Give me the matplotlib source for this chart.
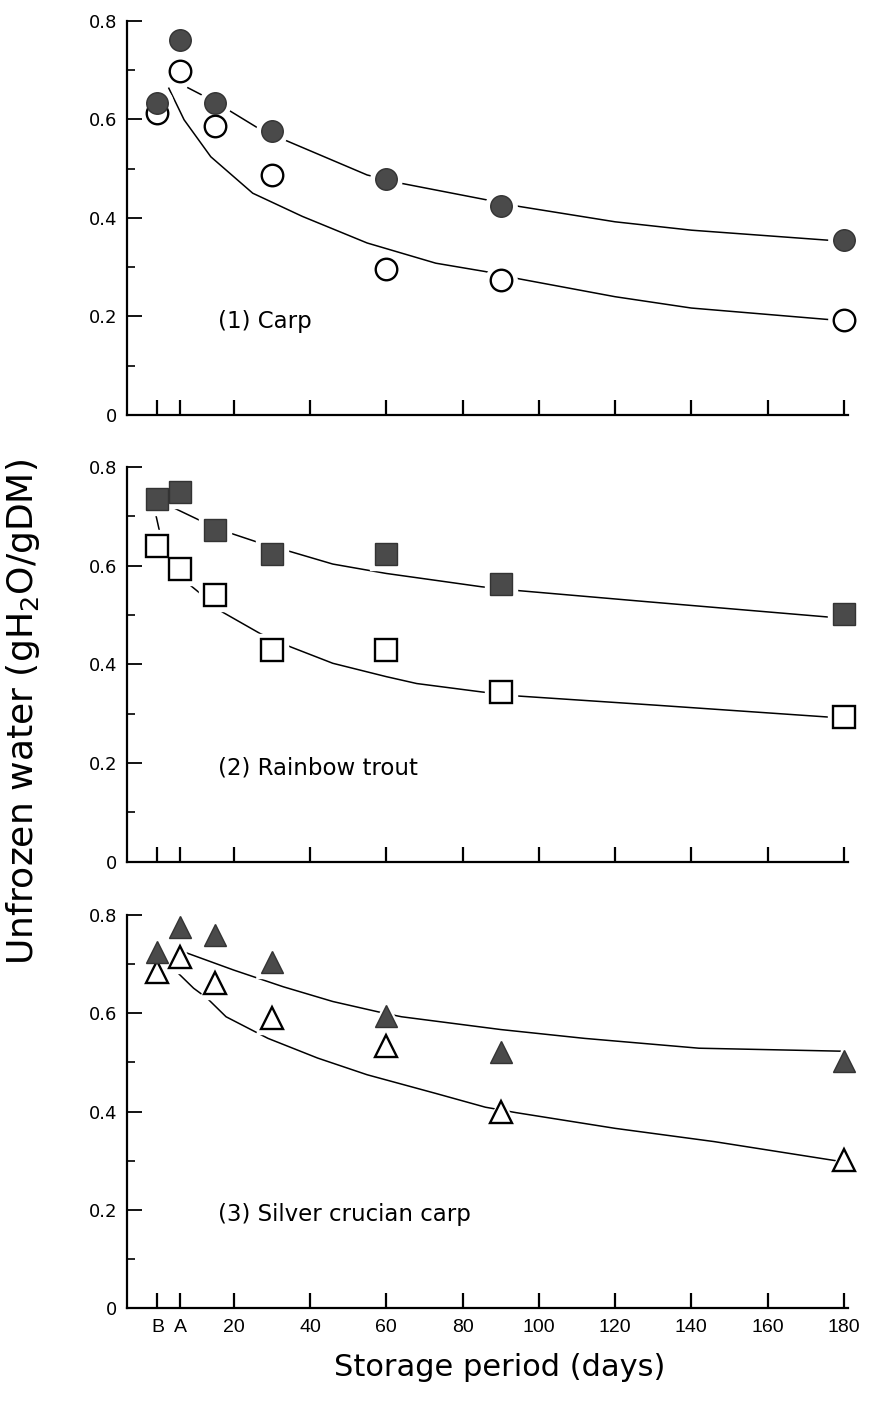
import matplotlib
matplotlib.use('Agg')
import matplotlib.pyplot as plt

# sampling days (B = before freezing, A = after freezing)
days = [0, 6, 15, 30, 60, 90, 180]
x_ticks = [0, 6, 20, 40, 60, 80, 100, 120, 140, 160, 180]
x_ticklabels = ['B', 'A', '20', '40', '60', '80', '100', '120', '140', '160', '180']
y_ticks = [0, 0.2, 0.4, 0.6, 0.8]
y_ticklabels = ['0', '0.2', '0.4', '0.6', '0.8']
y_minor = [0.1, 0.3, 0.5, 0.7]

panel_titles = ['(1) Carp', '(2) Rainbow trout', '(3) Silver crucian carp']

# (1) carp
carp_filled = [0.633, 0.760, 0.633, 0.577, 0.479, 0.424, 0.355]
carp_open = [0.612, 0.697, 0.587, 0.486, 0.296, 0.274, 0.193]
carp_curve_filled_x = [8, 15, 26, 34, 55, 64, 86, 95, 120, 140, 177]
carp_curve_filled_y = [0.664, 0.636, 0.584, 0.556, 0.487, 0.470, 0.437, 0.423, 0.392, 0.375, 0.354]
carp_curve_open_x = [3, 7, 14, 25, 38, 55, 73, 86, 95, 120, 140, 177]
carp_curve_open_y = [0.663, 0.599, 0.524, 0.450, 0.403, 0.349, 0.308, 0.291, 0.276, 0.240, 0.217, 0.193]

# (2) rainbow trout
trout_filled = [0.734, 0.749, 0.673, 0.623, 0.623, 0.562, 0.502]
trout_open = [0.639, 0.594, 0.540, 0.429, 0.429, 0.344, 0.294]
trout_curve_filled_x = [4.5, 11, 19, 26, 35, 46, 60, 73, 85, 95, 128, 177]
trout_curve_filled_y = [0.716, 0.692, 0.666, 0.648, 0.628, 0.603, 0.584, 0.570, 0.557, 0.549, 0.527, 0.495]
trout_curve_open_x = [-0.5, 0.6, 8, 11, 17, 27, 35, 46, 60, 68, 85, 94, 131, 178]
trout_curve_open_y = [0.706, 0.668, 0.564, 0.545, 0.506, 0.462, 0.435, 0.402, 0.375, 0.361, 0.344, 0.336, 0.317, 0.292]

# (3) silver crucian carp
crucian_filled = [0.725, 0.775, 0.759, 0.705, 0.595, 0.522, 0.502]
crucian_open = [0.685, 0.715, 0.662, 0.591, 0.534, 0.400, 0.302]
crucian_curve_filled_x = [7.6, 20, 33, 46, 59, 64, 77, 90, 112, 142, 179]
crucian_curve_filled_y = [0.723, 0.688, 0.654, 0.624, 0.601, 0.593, 0.580, 0.567, 0.549, 0.529, 0.523]
crucian_curve_open_x = [5, 9.5, 13, 18, 29, 42, 55, 73, 86, 94, 120, 146, 178]
crucian_curve_open_y = [0.685, 0.651, 0.631, 0.593, 0.549, 0.509, 0.475, 0.437, 0.409, 0.398, 0.366, 0.339, 0.300]

FILL = '#4a4a4a'
plt.rcParams['font.family'] = ['DejaVu Sans']


def draw_panel(ax, marker, filled, opened, cf_x, cf_y, co_x, co_y, title, ms, show_xlabels):
    ax.plot(cf_x, cf_y, color='black', lw=1.1, zorder=2)
    ax.plot(co_x, co_y, color='black', lw=1.1, zorder=2)
    # white halo so the curves stop short of the symbols
    for vals in (filled, opened):
        ax.plot(days, vals, ls='none', marker=marker, ms=ms + 7, mfc='white',
                mec='white', zorder=3, clip_on=False)
    ax.plot(days, opened, ls='none', marker=marker, ms=ms, mfc='white',
            mec='black', mew=1.7, zorder=4, clip_on=False)
    ax.plot(days, filled, ls='none', marker=marker, ms=ms, mfc=FILL,
            mec='#333333', mew=1.0, zorder=5, clip_on=False)

    ax.set_xlim(-8, 181)
    ax.set_ylim(0, 0.8)
    ax.spines['top'].set_visible(False)
    ax.spines['right'].set_visible(False)
    ax.spines['left'].set_linewidth(1.6)
    ax.spines['bottom'].set_linewidth(1.6)
    ax.set_xticks(x_ticks)
    ax.set_yticks(y_ticks)
    ax.set_yticks(y_minor, minor=True)
    ax.set_yticklabels(y_ticklabels, fontsize=13)
    if show_xlabels:
        ax.set_xticklabels(x_ticklabels, fontsize=14,
                           family=['Liberation Sans Narrow', 'Liberation Sans'])
    else:
        ax.set_xticklabels([])
    ax.tick_params(axis='x', direction='in', length=11, width=1.6, pad=8)
    ax.tick_params(axis='y', which='major', direction='in', length=11, width=1.3, pad=7)
    ax.tick_params(axis='y', which='minor', direction='in', length=6, width=1.2)
    ax.text(16, 0.19, title, fontsize=16.5, va='center', ha='left')


fig = plt.figure(figsize=(8.69, 14.01), dpi=100)
ax1 = fig.add_axes([0.146, 0.7038, 0.8295, 0.2814])
ax2 = fig.add_axes([0.146, 0.3849, 0.8295, 0.2819])
ax3 = fig.add_axes([0.146, 0.0662, 0.8295, 0.2807])

draw_panel(ax1, 'o', carp_filled, carp_open, carp_curve_filled_x, carp_curve_filled_y,
           carp_curve_open_x, carp_curve_open_y, panel_titles[0], 15.5, False)
draw_panel(ax2, 's', trout_filled, trout_open, trout_curve_filled_x, trout_curve_filled_y,
           trout_curve_open_x, trout_curve_open_y, panel_titles[1], 15.5, False)
draw_panel(ax3, '^', crucian_filled, crucian_open, crucian_curve_filled_x, crucian_curve_filled_y,
           crucian_curve_open_x, crucian_curve_open_y, panel_titles[2], 15.5, True)

fig.text(0.027, 0.492, 'Unfrozen water (gH$_\\mathregular{2}$O/gDM)', rotation=90,
         fontsize=26, ha='center', va='center')
fig.text(0.575, 0.0236, 'Storage period (days)', fontsize=22, ha='center', va='center')

plt.savefig('out.png', dpi=100)
